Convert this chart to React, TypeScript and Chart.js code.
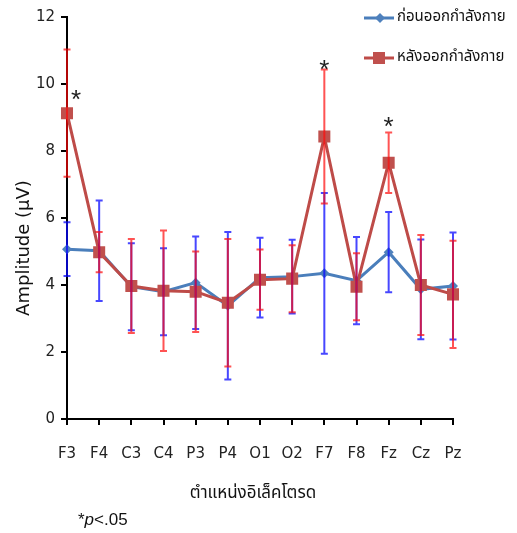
import React, { useEffect, useRef } from "react";
import { Chart, registerables } from "chart.js";

Chart.register(...registerables);

const categories = ["F3", "F4", "C3", "C4", "P3", "P4", "O1", "O2", "F7", "F8", "Fz", "Cz", "Pz"];
const beforeMean = [5.07, 5.02, 3.95, 3.8, 4.07, 3.38, 4.22, 4.25, 4.35, 4.13, 4.98, 3.87, 3.97];
const beforeSD = [0.8, 1.5, 1.3, 1.3, 1.38, 2.2, 1.19, 1.1, 2.4, 1.3, 1.2, 1.49, 1.6];
const afterMean = [9.13, 4.98, 3.97, 3.83, 3.8, 3.47, 4.16, 4.19, 8.43, 3.95, 7.65, 4.0, 3.72];
const afterSD = [1.9, 0.6, 1.4, 1.8, 1.2, 1.9, 0.9, 1.0, 2.0, 1.0, 0.9, 1.49, 1.6];
const sigCategories = ["F3", "F7", "Fz"];
const sigValues = [9.67, 10.57, 8.87];
const yTicks = [0, 2, 4, 6, 8, 10, 12];

const seriesNames = ["ก่อนออกกำลังกาย", "หลังออกกำลังกาย"];
const xTitle = "ตำแหน่งอิเล็คโตรด";
const yTitle = "Amplitude (µV)";

const THAI_FONT = '"Noto Sans Thai", "Noto Sans", "DejaVu Sans", sans-serif';
const TICK_FONT = '"DejaVu Sans", sans-serif';

export default function App() {
  const ref = useRef<HTMLCanvasElement>(null);

  useEffect(() => {
    const canvas = ref.current!;

    const errorBars = {
      id: "errorBars",
      afterDatasetsDraw(chart: any) {
        const { ctx, scales } = chart;
        const xs = scales.x;
        const ys = scales.y;
        const sets = [
          { mean: beforeMean, sd: beforeSD, color: "rgba(10,10,255,0.75)" },
          { mean: afterMean, sd: afterSD, color: "rgba(255,10,10,0.7)" },
        ];
        ctx.save();
        sets.forEach((s) => {
          ctx.strokeStyle = s.color;
          ctx.lineWidth = 2;
          s.mean.forEach((m, i) => {
            const x = xs.getPixelForValue(i);
            const yt = ys.getPixelForValue(m + s.sd[i]);
            const yb = ys.getPixelForValue(m - s.sd[i]);
            ctx.beginPath();
            ctx.moveTo(x, yt);
            ctx.lineTo(x, yb);
            ctx.moveTo(x - 3.5, yt);
            ctx.lineTo(x + 3.5, yt);
            ctx.moveTo(x - 3.5, yb);
            ctx.lineTo(x + 3.5, yb);
            ctx.stroke();
          });
        });
        ctx.restore();
      },
    };

    const annotations = {
      id: "annotations",
      afterDraw(chart: any) {
        const { ctx, scales } = chart;
        const xs = scales.x;
        const ys = scales.y;
        ctx.save();
        // significance asterisks
        ctx.fillStyle = "#222";
        ctx.font = '26px "Liberation Sans", sans-serif';
        ctx.textAlign = "center";
        ctx.textBaseline = "alphabetic";
        const m = ctx.measureText("*");
        const glyphMid = (m.actualBoundingBoxAscent - m.actualBoundingBoxDescent) / 2;
        sigCategories.forEach((c, k) => {
          const i = categories.indexOf(c);
          let x = xs.getPixelForValue(i);
          const top = afterMean[i] + afterSD[i];
          if (sigValues[k] < top) x += 9;
          const y = ys.getPixelForValue(sigValues[k]);
          ctx.fillText("*", x, y + glyphMid);
        });

        // y title
        ctx.fillStyle = "#111";
        ctx.font = '18px ' + TICK_FONT;
        ctx.textBaseline = "middle";
        ctx.textAlign = "center";
        ctx.save();
        ctx.translate(24, 248);
        ctx.rotate(-Math.PI / 2);
        ctx.fillText(yTitle, 0, 0);
        ctx.restore();

        // x title
        ctx.font = '17px ' + THAI_FONT;
        ctx.fillText(xTitle, 253, 495);

        // footnote
        ctx.textAlign = "left";
        ctx.font = '17px "Liberation Sans", sans-serif';
        let fx = 78;
        ctx.fillText("*", fx, 520);
        fx += ctx.measureText("*").width;
        ctx.font = 'italic 17px "Liberation Sans", sans-serif';
        ctx.fillText("p", fx, 520);
        fx += ctx.measureText("p").width;
        ctx.font = '17px "Liberation Sans", sans-serif';
        ctx.fillText("<.05", fx, 520);

        // legend
        const items = [
          { y: 18, line: "#4a7ebb", fill: "#4f81bd", shape: "diamond" },
          { y: 58, line: "#be4b48", fill: "#c0504d", shape: "square" },
        ];
        items.forEach((it, k) => {
          ctx.strokeStyle = it.line;
          ctx.lineWidth = 3;
          ctx.beginPath();
          ctx.moveTo(364, it.y);
          ctx.lineTo(394, it.y);
          ctx.stroke();
          ctx.fillStyle = it.fill;
          ctx.beginPath();
          if (it.shape === "diamond") {
            ctx.moveTo(380, it.y - 5);
            ctx.lineTo(385, it.y);
            ctx.lineTo(380, it.y + 5);
            ctx.lineTo(375, it.y);
          } else {
            ctx.rect(373, it.y - 6, 12, 12);
          }
          ctx.closePath();
          ctx.fill();
          ctx.fillStyle = "#111";
          ctx.font = '15px ' + THAI_FONT;
          ctx.textAlign = "left";
          ctx.textBaseline = "middle";
          ctx.fillText(seriesNames[k], 397, it.y);
        });
        ctx.restore();
      },
    };

    const chart = new Chart(canvas, {
      type: "line",
      data: {
        labels: categories,
        datasets: [
          {
            label: seriesNames[0],
            data: beforeMean,
            borderColor: "#4a7ebb",
            backgroundColor: "#4f81bd",
            pointBackgroundColor: "#4f81bd",
            pointBorderWidth: 0,
            borderWidth: 3,
            pointStyle: "rectRot",
            pointRadius: 5,
            tension: 0,
            order: 1,
          },
          {
            label: seriesNames[1],
            data: afterMean,
            borderColor: "#be4b48",
            backgroundColor: "#c0504d",
            pointBackgroundColor: "#c0504d",
            pointBorderWidth: 0,
            borderWidth: 3,
            pointStyle: "rect",
            pointRadius: 8.5,
            tension: 0,
            order: 0,
          },
        ],
      },
      options: {
        responsive: false,
        animation: false,
        layout: { padding: { top: 17, right: 64, left: 0, bottom: 0 } },
        plugins: {
          legend: { display: false },
          tooltip: { enabled: false },
        },
        scales: {
          x: {
            type: "category",
            offset: false,
            grid: {
              drawOnChartArea: false,
              drawTicks: true,
              tickLength: 6,
              color: "#000",
              lineWidth: 2,
            },
            border: { color: "#000", width: 2 },
            ticks: {
              color: "#222",
              font: { family: TICK_FONT, size: 15 },
              padding: 20,
              maxRotation: 0,
              autoSkip: false,
            },
            afterFit(s: any) {
              s.height = 114;
            },
          },
          y: {
            min: 0,
            max: 12,
            afterBuildTicks(s: any) {
              s.ticks = yTicks.map((v) => ({ value: v }));
            },
            grid: {
              drawOnChartArea: false,
              drawTicks: true,
              tickLength: 6,
              color: "#000",
              lineWidth: 2,
            },
            border: { color: "#000", width: 2 },
            ticks: {
              color: "#222",
              font: { family: TICK_FONT, size: 15 },
              padding: 6,
            },
            afterFit(s: any) {
              s.width = 67;
            },
          },
        },
      },
      plugins: [errorBars, annotations],
    });
    return () => chart.destroy();
  }, []);

  return (
    <div style={{ position: "absolute", left: 0, top: 0, width: 517, height: 533, background: "#fff" }}>
      <canvas ref={ref} width={517} height={533} style={{ display: "block" }} />
    </div>
  );
}
